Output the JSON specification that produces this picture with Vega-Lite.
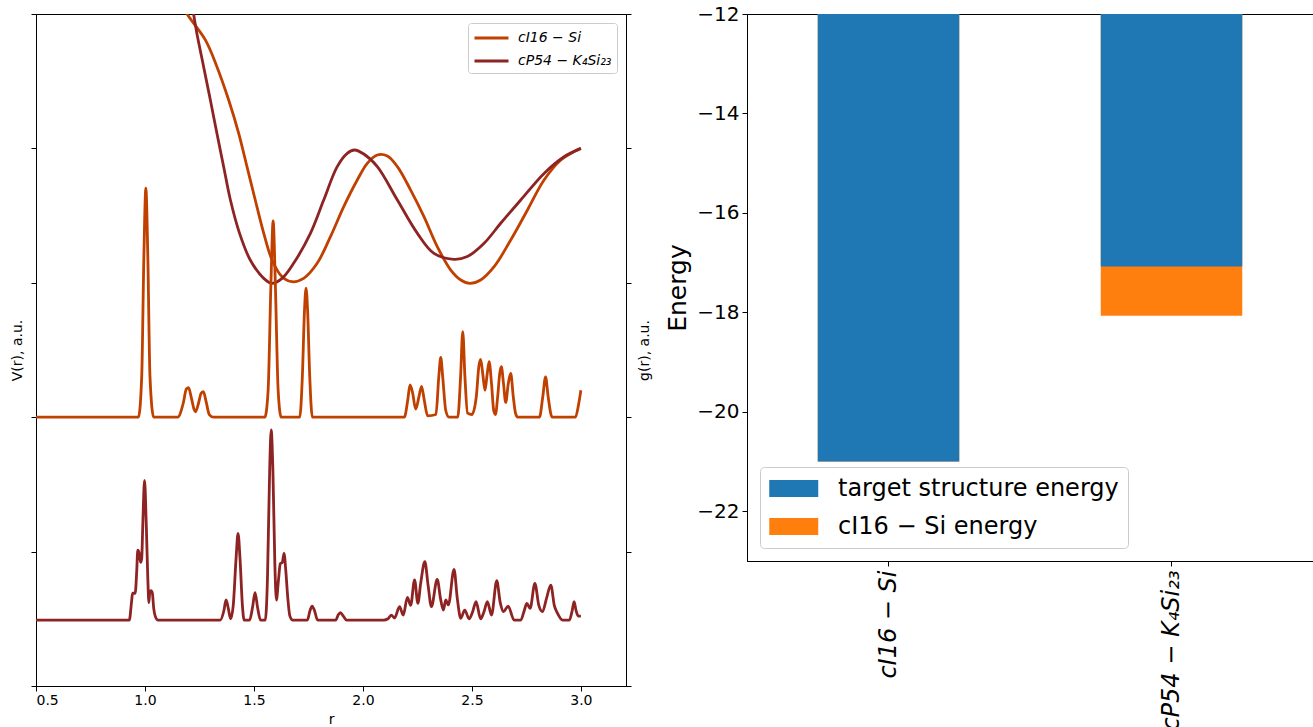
{
  "$schema": "https://vega.github.io/schema/vega-lite/v6.json",
  "background": "white",
  "padding": {"left": 10, "top": 3, "right": 0, "bottom": 0},
  "config": {
    "font": "DejaVu Sans",
    "view": {"stroke": "black", "strokeWidth": 1},
    "axis": {"grid": false, "domainColor": "black", "tickColor": "black", "labelColor": "black", "titleColor": "black", "titleFontWeight": "normal", "tickSize": 5, "labelFont": "DejaVu Sans", "titleFont": "DejaVu Sans"},
    "legend": {"labelFont": "DejaVu Sans", "labelColor": "black"}
  },
  "datasets": {
    "potential": [
      {"structure": "cI16 − Si", "r": 1.12, "V": 5.2},
      {"structure": "cI16 − Si", "r": 1.193, "V": 5.0},
      {"structure": "cI16 − Si", "r": 1.277, "V": 4.807},
      {"structure": "cI16 − Si", "r": 1.33, "V": 4.608},
      {"structure": "cI16 − Si", "r": 1.384, "V": 4.36},
      {"structure": "cI16 − Si", "r": 1.43, "V": 4.112},
      {"structure": "cI16 − Si", "r": 1.468, "V": 3.864},
      {"structure": "cI16 − Si", "r": 1.506, "V": 3.616},
      {"structure": "cI16 − Si", "r": 1.545, "V": 3.368},
      {"structure": "cI16 − Si", "r": 1.583, "V": 3.17},
      {"structure": "cI16 − Si", "r": 1.629, "V": 3.045},
      {"structure": "cI16 − Si", "r": 1.675, "V": 3.008},
      {"structure": "cI16 − Si", "r": 1.728, "V": 3.033},
      {"structure": "cI16 − Si", "r": 1.79, "V": 3.145},
      {"structure": "cI16 − Si", "r": 1.851, "V": 3.343},
      {"structure": "cI16 − Si", "r": 1.912, "V": 3.567},
      {"structure": "cI16 − Si", "r": 1.974, "V": 3.765},
      {"structure": "cI16 − Si", "r": 2.02, "V": 3.889},
      {"structure": "cI16 − Si", "r": 2.066, "V": 3.951},
      {"structure": "cI16 − Si", "r": 2.112, "V": 3.943},
      {"structure": "cI16 − Si", "r": 2.158, "V": 3.864},
      {"structure": "cI16 − Si", "r": 2.219, "V": 3.69},
      {"structure": "cI16 − Si", "r": 2.28, "V": 3.492},
      {"structure": "cI16 − Si", "r": 2.341, "V": 3.269},
      {"structure": "cI16 − Si", "r": 2.403, "V": 3.095},
      {"structure": "cI16 − Si", "r": 2.449, "V": 3.021},
      {"structure": "cI16 − Si", "r": 2.491, "V": 2.996},
      {"structure": "cI16 − Si", "r": 2.54, "V": 3.021},
      {"structure": "cI16 − Si", "r": 2.602, "V": 3.12},
      {"structure": "cI16 − Si", "r": 2.678, "V": 3.318},
      {"structure": "cI16 − Si", "r": 2.755, "V": 3.542},
      {"structure": "cI16 − Si", "r": 2.831, "V": 3.765},
      {"structure": "cI16 − Si", "r": 2.908, "V": 3.914},
      {"structure": "cI16 − Si", "r": 2.969, "V": 3.976},
      {"structure": "cI16 − Si", "r": 3.0, "V": 4.0},
      {"structure": "cP54 − K₄Si₂₃", "r": 1.19, "V": 5.33},
      {"structure": "cP54 − K₄Si₂₃", "r": 1.223, "V": 5.0},
      {"structure": "cP54 − K₄Si₂₃", "r": 1.238, "V": 4.857},
      {"structure": "cP54 − K₄Si₂₃", "r": 1.269, "V": 4.608},
      {"structure": "cP54 − K₄Si₂₃", "r": 1.3, "V": 4.36},
      {"structure": "cP54 − K₄Si₂₃", "r": 1.33, "V": 4.112},
      {"structure": "cP54 − K₄Si₂₃", "r": 1.361, "V": 3.864},
      {"structure": "cP54 − K₄Si₂₃", "r": 1.392, "V": 3.616},
      {"structure": "cP54 − K₄Si₂₃", "r": 1.434, "V": 3.368},
      {"structure": "cP54 − K₄Si₂₃", "r": 1.483, "V": 3.17},
      {"structure": "cP54 − K₄Si₂₃", "r": 1.545, "V": 3.033},
      {"structure": "cP54 − K₄Si₂₃", "r": 1.583, "V": 2.996},
      {"structure": "cP54 − K₄Si₂₃", "r": 1.629, "V": 3.033},
      {"structure": "cP54 − K₄Si₂₃", "r": 1.682, "V": 3.145},
      {"structure": "cP54 − K₄Si₂₃", "r": 1.759, "V": 3.368},
      {"structure": "cP54 − K₄Si₂₃", "r": 1.82, "V": 3.616},
      {"structure": "cP54 − K₄Si₂₃", "r": 1.882, "V": 3.864},
      {"structure": "cP54 − K₄Si₂₃", "r": 1.928, "V": 3.963},
      {"structure": "cP54 − K₄Si₂₃", "r": 1.961, "V": 3.988},
      {"structure": "cP54 − K₄Si₂₃", "r": 2.004, "V": 3.958},
      {"structure": "cP54 − K₄Si₂₃", "r": 2.066, "V": 3.864},
      {"structure": "cP54 − K₄Si₂₃", "r": 2.158, "V": 3.616},
      {"structure": "cP54 − K₄Si₂₃", "r": 2.25, "V": 3.368},
      {"structure": "cP54 − K₄Si₂₃", "r": 2.326, "V": 3.219},
      {"structure": "cP54 − K₄Si₂₃", "r": 2.418, "V": 3.175},
      {"structure": "cP54 − K₄Si₂₃", "r": 2.479, "V": 3.195},
      {"structure": "cP54 − K₄Si₂₃", "r": 2.556, "V": 3.294},
      {"structure": "cP54 − K₄Si₂₃", "r": 2.632, "V": 3.443},
      {"structure": "cP54 − K₄Si₂₃", "r": 2.724, "V": 3.616},
      {"structure": "cP54 − K₄Si₂₃", "r": 2.831, "V": 3.814},
      {"structure": "cP54 − K₄Si₂₃", "r": 2.923, "V": 3.938},
      {"structure": "cP54 − K₄Si₂₃", "r": 3.0, "V": 4.0}
    ],
    "rdf": [
      {"structure": "cI16 − Si", "r": 0.5, "g": 2.0},
      {"structure": "cI16 − Si", "r": 0.97, "g": 2.0},
      {"structure": "cI16 − Si", "r": 0.985, "g": 2.3},
      {"structure": "cI16 − Si", "r": 0.995, "g": 3.2},
      {"structure": "cI16 − Si", "r": 1.004, "g": 3.705},
      {"structure": "cI16 − Si", "r": 1.013, "g": 3.2},
      {"structure": "cI16 − Si", "r": 1.023, "g": 2.3},
      {"structure": "cI16 − Si", "r": 1.04, "g": 2.0},
      {"structure": "cI16 − Si", "r": 1.15, "g": 2.0},
      {"structure": "cI16 − Si", "r": 1.175, "g": 2.1},
      {"structure": "cI16 − Si", "r": 1.19, "g": 2.21},
      {"structure": "cI16 − Si", "r": 1.2, "g": 2.22},
      {"structure": "cI16 − Si", "r": 1.212, "g": 2.15},
      {"structure": "cI16 − Si", "r": 1.225, "g": 2.06},
      {"structure": "cI16 − Si", "r": 1.232, "g": 2.04},
      {"structure": "cI16 − Si", "r": 1.245, "g": 2.1},
      {"structure": "cI16 − Si", "r": 1.258, "g": 2.18},
      {"structure": "cI16 − Si", "r": 1.268, "g": 2.19},
      {"structure": "cI16 − Si", "r": 1.28, "g": 2.12},
      {"structure": "cI16 − Si", "r": 1.295, "g": 2.02},
      {"structure": "cI16 − Si", "r": 1.315, "g": 2.0},
      {"structure": "cI16 − Si", "r": 1.55, "g": 2.0},
      {"structure": "cI16 − Si", "r": 1.565, "g": 2.2},
      {"structure": "cI16 − Si", "r": 1.578, "g": 3.0},
      {"structure": "cI16 − Si", "r": 1.588, "g": 3.46},
      {"structure": "cI16 − Si", "r": 1.598, "g": 3.0},
      {"structure": "cI16 − Si", "r": 1.611, "g": 2.2},
      {"structure": "cI16 − Si", "r": 1.625, "g": 2.0},
      {"structure": "cI16 − Si", "r": 1.71, "g": 2.0},
      {"structure": "cI16 − Si", "r": 1.722, "g": 2.3},
      {"structure": "cI16 − Si", "r": 1.732, "g": 2.8},
      {"structure": "cI16 − Si", "r": 1.739, "g": 2.96},
      {"structure": "cI16 − Si", "r": 1.746, "g": 2.8},
      {"structure": "cI16 − Si", "r": 1.756, "g": 2.3},
      {"structure": "cI16 − Si", "r": 1.768, "g": 2.0},
      {"structure": "cI16 − Si", "r": 2.19, "g": 2.0},
      {"structure": "cI16 − Si", "r": 2.205, "g": 2.12},
      {"structure": "cI16 − Si", "r": 2.216, "g": 2.24},
      {"structure": "cI16 − Si", "r": 2.228, "g": 2.18},
      {"structure": "cI16 − Si", "r": 2.242, "g": 2.06},
      {"structure": "cI16 − Si", "r": 2.258, "g": 2.16},
      {"structure": "cI16 − Si", "r": 2.269, "g": 2.23},
      {"structure": "cI16 − Si", "r": 2.282, "g": 2.12},
      {"structure": "cI16 − Si", "r": 2.297, "g": 2.01},
      {"structure": "cI16 − Si", "r": 2.335, "g": 2.02},
      {"structure": "cI16 − Si", "r": 2.348, "g": 2.3},
      {"structure": "cI16 − Si", "r": 2.357, "g": 2.445},
      {"structure": "cI16 − Si", "r": 2.366, "g": 2.3},
      {"structure": "cI16 − Si", "r": 2.38, "g": 2.05},
      {"structure": "cI16 − Si", "r": 2.395, "g": 2.0},
      {"structure": "cI16 − Si", "r": 2.435, "g": 2.0},
      {"structure": "cI16 − Si", "r": 2.448, "g": 2.3},
      {"structure": "cI16 − Si", "r": 2.458, "g": 2.636},
      {"structure": "cI16 − Si", "r": 2.468, "g": 2.3},
      {"structure": "cI16 − Si", "r": 2.48, "g": 2.03},
      {"structure": "cI16 − Si", "r": 2.5, "g": 2.02},
      {"structure": "cI16 − Si", "r": 2.52, "g": 2.15},
      {"structure": "cI16 − Si", "r": 2.532, "g": 2.38},
      {"structure": "cI16 − Si", "r": 2.54, "g": 2.43},
      {"structure": "cI16 − Si", "r": 2.55, "g": 2.32},
      {"structure": "cI16 − Si", "r": 2.56, "g": 2.2},
      {"structure": "cI16 − Si", "r": 2.57, "g": 2.32},
      {"structure": "cI16 − Si", "r": 2.579, "g": 2.413},
      {"structure": "cI16 − Si", "r": 2.59, "g": 2.25},
      {"structure": "cI16 − Si", "r": 2.6, "g": 2.05},
      {"structure": "cI16 − Si", "r": 2.608, "g": 2.02},
      {"structure": "cI16 − Si", "r": 2.618, "g": 2.15},
      {"structure": "cI16 − Si", "r": 2.628, "g": 2.33},
      {"structure": "cI16 − Si", "r": 2.635, "g": 2.376},
      {"structure": "cI16 − Si", "r": 2.645, "g": 2.25},
      {"structure": "cI16 − Si", "r": 2.655, "g": 2.11},
      {"structure": "cI16 − Si", "r": 2.667, "g": 2.25},
      {"structure": "cI16 − Si", "r": 2.678, "g": 2.326},
      {"structure": "cI16 − Si", "r": 2.69, "g": 2.15},
      {"structure": "cI16 − Si", "r": 2.7, "g": 2.03},
      {"structure": "cI16 − Si", "r": 2.71, "g": 2.0},
      {"structure": "cI16 − Si", "r": 2.81, "g": 2.0},
      {"structure": "cI16 − Si", "r": 2.825, "g": 2.15},
      {"structure": "cI16 − Si", "r": 2.838, "g": 2.3},
      {"structure": "cI16 − Si", "r": 2.85, "g": 2.15},
      {"structure": "cI16 − Si", "r": 2.868, "g": 2.0},
      {"structure": "cI16 − Si", "r": 2.975, "g": 2.0},
      {"structure": "cI16 − Si", "r": 2.99, "g": 2.1},
      {"structure": "cI16 − Si", "r": 3.0, "g": 2.2},
      {"structure": "cP54 − K₄Si₂₃", "r": 0.5, "g": 0.49},
      {"structure": "cP54 − K₄Si₂₃", "r": 0.928, "g": 0.49},
      {"structure": "cP54 − K₄Si₂₃", "r": 0.938, "g": 0.62},
      {"structure": "cP54 − K₄Si₂₃", "r": 0.943, "g": 0.69},
      {"structure": "cP54 − K₄Si₂₃", "r": 0.955, "g": 0.69},
      {"structure": "cP54 − K₄Si₂₃", "r": 0.962, "g": 0.85},
      {"structure": "cP54 − K₄Si₂₃", "r": 0.967, "g": 1.01},
      {"structure": "cP54 − K₄Si₂₃", "r": 0.973, "g": 0.99},
      {"structure": "cP54 − K₄Si₂₃", "r": 0.98, "g": 0.92},
      {"structure": "cP54 − K₄Si₂₃", "r": 0.985, "g": 0.95},
      {"structure": "cP54 − K₄Si₂₃", "r": 0.99, "g": 1.2},
      {"structure": "cP54 − K₄Si₂₃", "r": 0.998, "g": 1.53},
      {"structure": "cP54 − K₄Si₂₃", "r": 1.006, "g": 1.2},
      {"structure": "cP54 − K₄Si₂₃", "r": 1.013, "g": 0.8},
      {"structure": "cP54 − K₄Si₂₃", "r": 1.018, "g": 0.62},
      {"structure": "cP54 − K₄Si₂₃", "r": 1.022, "g": 0.7},
      {"structure": "cP54 − K₄Si₂₃", "r": 1.028, "g": 0.71},
      {"structure": "cP54 − K₄Si₂₃", "r": 1.034, "g": 0.69},
      {"structure": "cP54 − K₄Si₂₃", "r": 1.04, "g": 0.58},
      {"structure": "cP54 − K₄Si₂₃", "r": 1.047, "g": 0.52},
      {"structure": "cP54 − K₄Si₂₃", "r": 1.06, "g": 0.49},
      {"structure": "cP54 − K₄Si₂₃", "r": 1.345, "g": 0.49},
      {"structure": "cP54 − K₄Si₂₃", "r": 1.362, "g": 0.56},
      {"structure": "cP54 − K₄Si₂₃", "r": 1.372, "g": 0.64},
      {"structure": "cP54 − K₄Si₂₃", "r": 1.382, "g": 0.58},
      {"structure": "cP54 − K₄Si₂₃", "r": 1.393, "g": 0.5},
      {"structure": "cP54 − K₄Si₂₃", "r": 1.405, "g": 0.6},
      {"structure": "cP54 − K₄Si₂₃", "r": 1.418, "g": 0.95},
      {"structure": "cP54 − K₄Si₂₃", "r": 1.427, "g": 1.136},
      {"structure": "cP54 − K₄Si₂₃", "r": 1.436, "g": 0.95},
      {"structure": "cP54 − K₄Si₂₃", "r": 1.447, "g": 0.6},
      {"structure": "cP54 − K₄Si₂₃", "r": 1.455, "g": 0.49},
      {"structure": "cP54 − K₄Si₂₃", "r": 1.48, "g": 0.49},
      {"structure": "cP54 − K₄Si₂₃", "r": 1.493, "g": 0.58},
      {"structure": "cP54 − K₄Si₂₃", "r": 1.505, "g": 0.694},
      {"structure": "cP54 − K₄Si₂₃", "r": 1.517, "g": 0.58},
      {"structure": "cP54 − K₄Si₂₃", "r": 1.53, "g": 0.49},
      {"structure": "cP54 − K₄Si₂₃", "r": 1.552, "g": 0.49},
      {"structure": "cP54 − K₄Si₂₃", "r": 1.562, "g": 0.8},
      {"structure": "cP54 − K₄Si₂₃", "r": 1.572, "g": 1.6},
      {"structure": "cP54 − K₄Si₂₃", "r": 1.579, "g": 1.905},
      {"structure": "cP54 − K₄Si₂₃", "r": 1.587, "g": 1.6},
      {"structure": "cP54 − K₄Si₂₃", "r": 1.596, "g": 0.9},
      {"structure": "cP54 − K₄Si₂₃", "r": 1.603, "g": 0.64},
      {"structure": "cP54 − K₄Si₂₃", "r": 1.612, "g": 0.78},
      {"structure": "cP54 − K₄Si₂₃", "r": 1.621, "g": 0.91},
      {"structure": "cP54 − K₄Si₂₃", "r": 1.63, "g": 0.92},
      {"structure": "cP54 − K₄Si₂₃", "r": 1.638, "g": 0.987},
      {"structure": "cP54 − K₄Si₂₃", "r": 1.646, "g": 0.86},
      {"structure": "cP54 − K₄Si₂₃", "r": 1.655, "g": 0.66},
      {"structure": "cP54 − K₄Si₂₃", "r": 1.665, "g": 0.52},
      {"structure": "cP54 − K₄Si₂₃", "r": 1.678, "g": 0.49},
      {"structure": "cP54 − K₄Si₂₃", "r": 1.745, "g": 0.49},
      {"structure": "cP54 − K₄Si₂₃", "r": 1.757, "g": 0.56},
      {"structure": "cP54 − K₄Si₂₃", "r": 1.767, "g": 0.595},
      {"structure": "cP54 − K₄Si₂₃", "r": 1.778, "g": 0.56},
      {"structure": "cP54 − K₄Si₂₃", "r": 1.792, "g": 0.49},
      {"structure": "cP54 − K₄Si₂₃", "r": 1.875, "g": 0.49},
      {"structure": "cP54 − K₄Si₂₃", "r": 1.887, "g": 0.53},
      {"structure": "cP54 − K₄Si₂₃", "r": 1.897, "g": 0.545},
      {"structure": "cP54 − K₄Si₂₃", "r": 1.91, "g": 0.52},
      {"structure": "cP54 − K₄Si₂₃", "r": 1.925, "g": 0.49},
      {"structure": "cP54 − K₄Si₂₃", "r": 2.095, "g": 0.49},
      {"structure": "cP54 − K₄Si₂₃", "r": 2.115, "g": 0.5},
      {"structure": "cP54 − K₄Si₂₃", "r": 2.13, "g": 0.528},
      {"structure": "cP54 − K₄Si₂₃", "r": 2.145, "g": 0.506},
      {"structure": "cP54 − K₄Si₂₃", "r": 2.168, "g": 0.59},
      {"structure": "cP54 − K₄Si₂₃", "r": 2.185, "g": 0.528},
      {"structure": "cP54 − K₄Si₂₃", "r": 2.204, "g": 0.66},
      {"structure": "cP54 − K₄Si₂₃", "r": 2.219, "g": 0.6},
      {"structure": "cP54 − K₄Si₂₃", "r": 2.237, "g": 0.79},
      {"structure": "cP54 − K₄Si₂₃", "r": 2.252, "g": 0.615},
      {"structure": "cP54 − K₄Si₂₃", "r": 2.265, "g": 0.764},
      {"structure": "cP54 − K₄Si₂₃", "r": 2.284, "g": 0.925},
      {"structure": "cP54 − K₄Si₂₃", "r": 2.299, "g": 0.75},
      {"structure": "cP54 − K₄Si₂₃", "r": 2.314, "g": 0.59},
      {"structure": "cP54 − K₄Si₂₃", "r": 2.341, "g": 0.794},
      {"structure": "cP54 − K₄Si₂₃", "r": 2.356, "g": 0.65},
      {"structure": "cP54 − K₄Si₂₃", "r": 2.369, "g": 0.565},
      {"structure": "cP54 − K₄Si₂₃", "r": 2.38, "g": 0.64},
      {"structure": "cP54 − K₄Si₂₃", "r": 2.392, "g": 0.603},
      {"structure": "cP54 − K₄Si₂₃", "r": 2.418, "g": 0.868},
      {"structure": "cP54 − K₄Si₂₃", "r": 2.433, "g": 0.65},
      {"structure": "cP54 − K₄Si₂₃", "r": 2.449, "g": 0.504},
      {"structure": "cP54 − K₄Si₂₃", "r": 2.467, "g": 0.565},
      {"structure": "cP54 − K₄Si₂₃", "r": 2.487, "g": 0.5},
      {"structure": "cP54 − K₄Si₂₃", "r": 2.503, "g": 0.55},
      {"structure": "cP54 − K₄Si₂₃", "r": 2.519, "g": 0.627},
      {"structure": "cP54 − K₄Si₂₃", "r": 2.54, "g": 0.5},
      {"structure": "cP54 − K₄Si₂₃", "r": 2.555, "g": 0.55},
      {"structure": "cP54 − K₄Si₂₃", "r": 2.571, "g": 0.627},
      {"structure": "cP54 − K₄Si₂₃", "r": 2.59, "g": 0.528},
      {"structure": "cP54 − K₄Si₂₃", "r": 2.614, "g": 0.783},
      {"structure": "cP54 − K₄Si₂₃", "r": 2.63, "g": 0.62},
      {"structure": "cP54 − K₄Si₂₃", "r": 2.645, "g": 0.553},
      {"structure": "cP54 − K₄Si₂₃", "r": 2.666, "g": 0.595},
      {"structure": "cP54 − K₄Si₂₃", "r": 2.694, "g": 0.49},
      {"structure": "cP54 − K₄Si₂₃", "r": 2.724, "g": 0.49},
      {"structure": "cP54 − K₄Si₂₃", "r": 2.74, "g": 0.56},
      {"structure": "cP54 − K₄Si₂₃", "r": 2.752, "g": 0.615},
      {"structure": "cP54 − K₄Si₂₃", "r": 2.767, "g": 0.578},
      {"structure": "cP54 − K₄Si₂₃", "r": 2.789, "g": 0.764},
      {"structure": "cP54 − K₄Si₂₃", "r": 2.807, "g": 0.6},
      {"structure": "cP54 − K₄Si₂₃", "r": 2.824, "g": 0.553},
      {"structure": "cP54 − K₄Si₂₃", "r": 2.842, "g": 0.65},
      {"structure": "cP54 − K₄Si₂₃", "r": 2.862, "g": 0.751},
      {"structure": "cP54 − K₄Si₂₃", "r": 2.878, "g": 0.6},
      {"structure": "cP54 − K₄Si₂₃", "r": 2.893, "g": 0.54},
      {"structure": "cP54 − K₄Si₂₃", "r": 2.916, "g": 0.49},
      {"structure": "cP54 − K₄Si₂₃", "r": 2.947, "g": 0.49},
      {"structure": "cP54 − K₄Si₂₃", "r": 2.96, "g": 0.56},
      {"structure": "cP54 − K₄Si₂₃", "r": 2.969, "g": 0.627},
      {"structure": "cP54 − K₄Si₂₃", "r": 2.978, "g": 0.56},
      {"structure": "cP54 − K₄Si₂₃", "r": 2.988, "g": 0.52},
      {"structure": "cP54 − K₄Si₂₃", "r": 3.0, "g": 0.52}
    ],
    "energy": [
      {"structure": "cI16 − Si", "series": "cI16 − Si energy", "energy": -21.0},
      {"structure": "cP54 − K₄Si₂₃", "series": "cI16 − Si energy", "energy": -18.07},
      {"structure": "cI16 − Si", "series": "target structure energy", "energy": -21.0},
      {"structure": "cP54 − K₄Si₂₃", "series": "target structure energy", "energy": -17.08}
    ]
  },
  "bounds": "flush",
  "spacing": 121,
  "resolve": {"scale": {"color": "independent"}, "legend": {"color": "independent"}},
  "hconcat": [
    {
      "width": 590,
      "height": 672,
      "layer": [
        {
          "data": {"name": "potential"},
          "mark": {"type": "line", "clip": true, "strokeWidth": 2.8, "interpolate": "catmull-rom"},
          "encoding": {
            "x": {"field": "r", "type": "quantitative", "scale": {"domain": [0.5, 3.207], "nice": false, "zero": false},
                  "axis": {"values": [0.5, 1.0, 1.5, 2.0, 2.5, 3.0], "format": ".1f", "labelFontSize": 14, "labelPadding": 2, "title": "r", "titleFontSize": 14, "titlePadding": 5}},
            "y": {"field": "V", "type": "quantitative", "scale": {"domain": [0, 5], "nice": false, "zero": false},
                  "axis": {"orient": "left", "values": [0, 1, 2, 3, 4, 5], "labels": false, "title": "V(r), a.u.", "titleFontSize": 14, "titlePadding": 6}},
            "color": {"field": "structure", "type": "nominal",
                      "scale": {"domain": ["cI16 − Si", "cP54 − K₄Si₂₃"], "range": ["#c04000", "#8e2323"]},
                      "legend": {"title": null, "orient": "top-right", "offset": 9, "labelFontSize": 14, "labelFontStyle": "italic", "symbolType": "M-1,0H3", "symbolSize": 289, "symbolStrokeWidth": 3, "labelOffset": 25, "rowPadding": 6, "padding": 5, "strokeColor": "#cccccc", "fillColor": "white", "cornerRadius": 3}}
          }
        },
        {
          "data": {"name": "rdf"},
          "mark": {"type": "line", "clip": true, "strokeWidth": 2.8, "interpolate": "monotone"},
          "encoding": {
            "x": {"field": "r", "type": "quantitative", "scale": {"domain": [0.5, 3.207], "nice": false, "zero": false},
                  "axis": {"values": [0.5, 1.0, 1.5, 2.0, 2.5, 3.0], "format": ".1f", "labelFontSize": 14, "labelPadding": 2, "title": "r", "titleFontSize": 14, "titlePadding": 5}},
            "y": {"field": "g", "type": "quantitative", "scale": {"domain": [0, 5], "nice": false, "zero": false},
                  "axis": {"orient": "right", "values": [0, 1, 2, 3, 4, 5], "labels": false, "title": "g(r), a.u.", "titleFontSize": 14, "titlePadding": 6, "titleAngle": 270, "titleBaseline": "top"}},
            "color": {"field": "structure", "type": "nominal",
                      "scale": {"domain": ["cI16 − Si", "cP54 − K₄Si₂₃"], "range": ["#c04000", "#8e2323"]},
                      "legend": {"title": null, "orient": "top-right", "offset": 9, "labelFontSize": 14, "labelFontStyle": "italic", "symbolType": "M-1,0H3", "symbolSize": 289, "symbolStrokeWidth": 3, "labelOffset": 25, "rowPadding": 6, "padding": 5, "strokeColor": "#cccccc", "fillColor": "white", "cornerRadius": 3}}
          }
        }
      ],
      "resolve": {"scale": {"y": "independent"}}
    },
    {
      "width": 566,
      "height": 547,
      "data": {"name": "energy"},
      "mark": {"type": "bar", "clip": true},
      "encoding": {
        "x": {"field": "structure", "type": "nominal", "sort": ["cI16 − Si", "cP54 − K₄Si₂₃"],
              "scale": {"paddingInner": 0.5, "paddingOuter": 0.25},
              "axis": {"title": null, "labelAngle": -90, "labelAlign": "right", "labelBaseline": "middle", "labelFontSize": 24, "labelFontStyle": "italic", "labelPadding": 4, "labelLimit": 400}},
        "y": {"field": "energy", "type": "quantitative", "stack": null, "scale": {"domain": [-23, -12], "nice": false, "zero": false},
              "axis": {"values": [-22, -20, -18, -16, -14, -12], "labelFontSize": 20, "labelPadding": 3, "title": "Energy", "titleFontSize": 25, "titlePadding": 6}},
        "y2": {"datum": 0},
        "color": {"field": "series", "type": "nominal",
                  "scale": {"domain": ["target structure energy", "cI16 − Si energy"], "range": ["#1f77b4", "#ff7f0e"]},
                  "legend": {"title": null, "orient": "bottom-left", "offset": 13, "labelFontSize": 24, "symbolType": "M-1,-0.7H3V0.7H-1Z", "symbolSize": 600, "symbolStrokeWidth": 0, "symbolOpacity": 1, "labelOffset": 44, "rowPadding": 13, "padding": 9, "strokeColor": "#cccccc", "fillColor": "white", "cornerRadius": 4, "labelLimit": 500}}
      }
    }
  ]
}
